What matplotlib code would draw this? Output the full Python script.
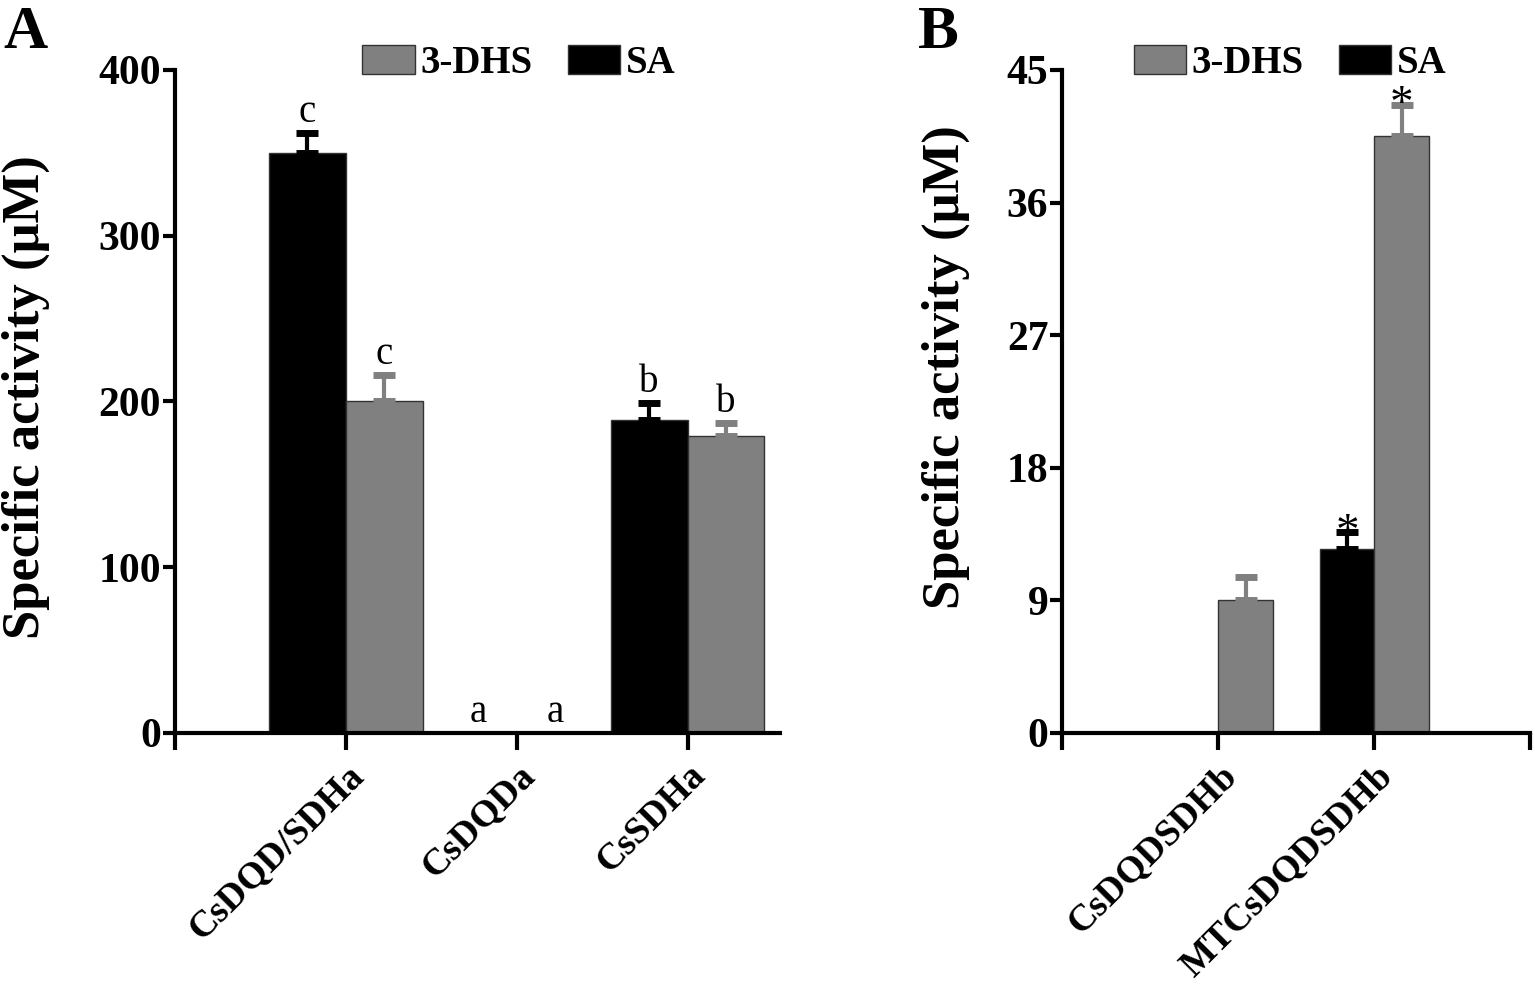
import numpy as np
import matplotlib.pyplot as plt
from matplotlib.patches import Patch

plt.rcParams['font.family'] = ['Liberation Serif', 'DejaVu Serif']
plt.rcParams['font.weight'] = 'bold'

# panel A data
cats_a = ['CsDQD/SDHa', 'CsDQDa', 'CsSDHa']
sa_a = [350, 0, 189]
sa_a_err = [12, 0, 10]
dhs_a = [200, 0, 179]
dhs_a_err = [16, 0, 8]
sa_a_lab = ['c', 'a', 'b']
dhs_a_lab = ['c', 'a', 'b']

# panel B data
cats_b = ['CsDQDSDHb', 'MTCsDQDSDHb']
sa_b = [0, 12.5]
sa_b_err = [0, 1.1]
dhs_b = [9.0, 40.5]
dhs_b_err = [1.6, 2.1]
sa_b_lab = ['', '*']
dhs_b_lab = ['', '*']

GRAY = '#808080'

fig = plt.figure(figsize=(15.35, 9.85), dpi=100)
ax1 = fig.add_axes([0.114, 0.256, 0.394, 0.673])
ax2 = fig.add_axes([0.692, 0.256, 0.305, 0.673])


def panel(ax, cats, sa, sa_err, dhs, dhs_err, sa_lab, dhs_lab, w, ymax, yticks,
          xmax, off, lab_size, ylab_xy, leg_x):
    x = np.arange(1, len(cats) + 1)
    ax.bar(x - w / 2, sa, w, color='black', edgecolor='#333333', linewidth=1)
    ax.bar(x + w / 2, dhs, w, color=GRAY, edgecolor='#333333', linewidth=1)
    for xi, v, e in zip(x - w / 2, sa, sa_err):
        if e > 0:
            ax.errorbar(xi, v, yerr=[[0], [e]], color='black', capsize=8,
                        capthick=5, elinewidth=3)
    for xi, v, e in zip(x + w / 2, dhs, dhs_err):
        if e > 0:
            ax.errorbar(xi, v, yerr=[[0], [e]], color=GRAY, capsize=8,
                        capthick=5, elinewidth=3)
    for xi, v, e, t in zip(x - w / 2, sa, sa_err, sa_lab):
        ax.text(xi, v + e + off, t, ha='center', va='bottom', fontsize=lab_size,
                fontweight='normal')
    for xi, v, e, t in zip(x + w / 2, dhs, dhs_err, dhs_lab):
        ax.text(xi, v + e + off, t, ha='center', va='bottom', fontsize=lab_size,
                fontweight='normal')
    ax.set_xlim(0, xmax)
    ax.set_ylim(0, ymax)
    ax.set_yticks(yticks)
    ticks = list(range(0, int(xmax) + 1))
    ax.set_xticks(ticks)
    ax.set_xticklabels([''] + cats + [''] * (len(ticks) - len(cats) - 1),
                       rotation=45, ha='right', rotation_mode='anchor',
                       fontsize=27, fontweight='bold')
    ax.spines['top'].set_visible(False)
    ax.spines['right'].set_visible(False)
    ax.spines['left'].set_linewidth(3)
    ax.spines['bottom'].set_linewidth(3)
    ax.tick_params(axis='y', length=9, width=3, labelsize=30, pad=1)
    ax.tick_params(axis='x', length=12, width=3, pad=6)
    for lab in ax.get_yticklabels():
        lab.set_fontweight('bold')
    ax.set_ylabel('Specific activity (μM)', fontsize=38, fontweight='bold')
    ax.yaxis.set_label_coords(*ylab_xy)
    handles = [Patch(facecolor=GRAY, edgecolor='#333333', label='3-DHS'),
               Patch(facecolor='black', edgecolor='#333333', label='SA')]
    ax.legend(handles=handles, loc='lower center', bbox_to_anchor=(leg_x, 0.982),
              ncol=2, frameon=False, handlelength=1.35, handleheight=0.75,
              handletextpad=0.15, columnspacing=0.9, borderaxespad=0,
              borderpad=0, prop={'weight': 'bold', 'size': 28})


panel(ax1, cats_a, sa_a, sa_a_err, dhs_a, dhs_a_err, sa_a_lab, dhs_a_lab,
      0.45, 400, [0, 100, 200, 300, 400], 3.54, 1, 28, (-0.207, 0.507), 0.569)
panel(ax2, cats_b, sa_b, sa_b_err, dhs_b, dhs_b_err, sa_b_lab, dhs_b_lab,
      0.35, 45, [0, 9, 18, 27, 36, 45], 3, -1.5, 34, (-0.197, 0.552), 0.487)

fig.text(0.002, 0.995, 'A', fontsize=44, fontweight='bold', va='top', ha='left')
fig.text(0.598, 0.995, 'B', fontsize=44, fontweight='bold', va='top', ha='left')

fig.savefig('out.png', dpi=100)
